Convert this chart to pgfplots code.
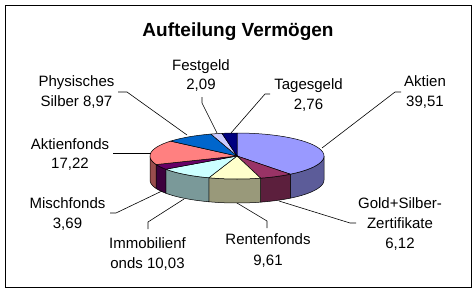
\documentclass[border=0pt]{standalone}
\usepackage{pgfplots}
\pgfplotsset{compat=1.18}
\usepackage{fontspec}
\setmainfont{Liberation Sans}
\definecolor{cA}{HTML}{9999FF}
\definecolor{cG}{HTML}{993366}
\definecolor{cR}{HTML}{FFFFCC}
\definecolor{cI}{HTML}{CCFFFF}
\definecolor{cM}{HTML}{660066}
\definecolor{cAF}{HTML}{FF8080}
\definecolor{cP}{HTML}{0066CC}
\definecolor{cF}{HTML}{CCCCFF}
\definecolor{cT}{HTML}{000080}
\newcommand\lbl{\fontsize{15bp}{18bp}\selectfont}
% #1 = cumulative share before the slice, #2 = share of the slice (percent)
\newcommand\topslice[3]{%
  \addplot[fill=#3, draw=black, line width=0.5bp, samples at={0,1,...,30}, variable=\u]
    ({237+87*sin((#1+#2*\u/30)*3.6)}, {156-23*cos((#1+#2*\u/30)*3.6)})
    -- (axis cs:237,156) -- cycle;}
\newcommand\sideslice[3]{%
  \pgfmathsetmacro\Aa{max(#1*3.6,90)}%
  \pgfmathsetmacro\Ab{min((#1+#2)*3.6,270)}%
  \addplot[fill=#3!60!black, draw=black, line width=0.5bp, samples at={0,1,...,41}, variable=\u]
    ({237+87*sin(ifthenelse(\u<21, \Aa+(\Ab-\Aa)*\u/20, \Ab-(\Ab-\Aa)*(\u-21)/20))},
     {156-23*cos(ifthenelse(\u<21, \Aa+(\Ab-\Aa)*\u/20, \Ab-(\Ab-\Aa)*(\u-21)/20))+ifthenelse(\u<21,0,24)})
    -- cycle;}
\begin{document}
\begin{tikzpicture}
\begin{axis}[width=476bp, height=291bp, scale only axis,
  xmin=0, xmax=476, ymin=0, ymax=291, y dir=reverse,
  hide axis, clip=false]
\path (axis cs:0,0) rectangle (axis cs:476,291);
\draw[black, line width=0.8bp] (axis cs:5.5,5.5) rectangle (axis cs:471,287);
% side faces (front half)
\sideslice{0}{39.51}{cA}
\sideslice{39.51}{6.12}{cG}
\sideslice{45.63}{9.61}{cR}
\sideslice{55.24}{10.03}{cI}
\sideslice{65.27}{3.69}{cM}
\sideslice{68.96}{17.22}{cAF}
% top faces
\topslice{0}{39.51}{cA}
\topslice{39.51}{6.12}{cG}
\topslice{45.63}{9.61}{cR}
\topslice{55.24}{10.03}{cI}
\topslice{65.27}{3.69}{cM}
\topslice{68.96}{17.22}{cAF}
\topslice{86.18}{8.97}{cP}
\topslice{95.15}{2.09}{cF}
\topslice{97.24}{2.76}{cT}
% leader lines
\addplot[black, line width=0.6bp] coordinates {(322,148) (395,92) (401,92)};
\addplot[black, line width=0.6bp] coordinates {(231,133) (265,94) (270,94)};
\addplot[black, line width=0.6bp] coordinates {(217,133) (202,103) (202,97)};
\addplot[black, line width=0.6bp] coordinates {(187,135) (127,92) (118,92)};
\addplot[black, line width=0.6bp] coordinates {(151,153) (113,153)};
\addplot[black, line width=0.6bp] coordinates {(162,191) (116,213) (110,213)};
\addplot[black, line width=0.6bp] coordinates {(184,199) (148,222) (148,229)};
\addplot[black, line width=0.6bp] coordinates {(237,203) (267,221) (267,228)};
\addplot[black, line width=0.6bp] coordinates {(279,201) (350,223) (356,223)};
% title
\node[anchor=base, inner sep=0pt, font=\fontsize{19bp}{22bp}\selectfont\bfseries] at (axis cs:238,36) {Aufteilung Vermögen};
% labels
\begin{scope}[every node/.style={anchor=base, inner sep=0pt, font=\lbl}]
\node at (axis cs:425,86.7) {Aktien};
\node at (axis cs:425,106.7) {39,51};
\node at (axis cs:308.5,89) {Tagesgeld};
\node at (axis cs:308.5,109) {2,76};
\node at (axis cs:201,70) {Festgeld};
\node at (axis cs:201,89.5) {2,09};
\node at (axis cs:76.5,86.5) {Physisches};
\node at (axis cs:76.5,106.5) {Silber 8,97};
\node at (axis cs:70,149) {Aktienfonds};
\node at (axis cs:70,168.5) {17,22};
\node at (axis cs:67.5,208) {Mischfonds};
\node at (axis cs:67.5,228) {3,69};
\node at (axis cs:147.5,248.3) {Immobilienf};
\node at (axis cs:147.5,268.3) {onds 10,03};
\node at (axis cs:268,244.5) {Rentenfonds};
\node at (axis cs:268,265) {9,61};
\node at (axis cs:400,208.3) {Gold+Silber-};
\node at (axis cs:400,228.3) {Zertifikate};
\node at (axis cs:400,248.3) {6,12};
\end{scope}
\end{axis}
\end{tikzpicture}
\end{document}
